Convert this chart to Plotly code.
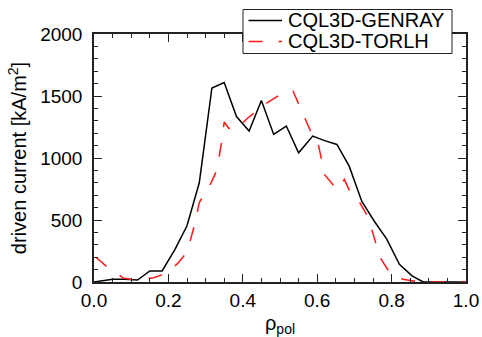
import plotly.graph_objects as go

# Radial profiles of driven current density vs normalized poloidal flux radius
rho_genray = [0.0, 0.05, 0.083, 0.117, 0.15, 0.183, 0.217, 0.25, 0.283, 0.317,
              0.35, 0.383, 0.417, 0.45, 0.483, 0.517, 0.55, 0.588, 0.62, 0.653,
              0.686, 0.72, 0.754, 0.787, 0.821, 0.855, 0.885, 0.92, 0.96, 1.0]
j_genray = [0, 22, 22, 16, 89, 89, 259, 453, 800, 1565,
            1609, 1334, 1217, 1463, 1190, 1258, 1042, 1177, 1140, 1109,
            934, 650, 488, 346, 143, 49, 0, 0, 0, 0]

rho_torlh = [0.005, 0.04, 0.08, 0.115, 0.16, 0.195, 0.225, 0.25, 0.268, 0.283,
             0.313, 0.33, 0.342, 0.35, 0.362, 0.385, 0.411, 0.44, 0.463, 0.499,
             0.528, 0.535, 0.553, 0.586, 0.604, 0.62, 0.653, 0.673, 0.689, 0.715,
             0.738, 0.76, 0.773, 0.796, 0.831, 0.867, 0.9, 1.0]
j_torlh = [200, 110, 30, 15, 35, 70, 150, 240, 435, 640,
           790, 900, 1110, 1290, 1240, 1235, 1317, 1390, 1441, 1508,
           1546, 1540, 1414, 1190, 1096, 866, 745, 826, 723, 637,
           516, 286, 178, 70, 22, 3, 0, 0]

series_names = ["CQL3D-GENRAY", "CQL3D-TORLH"]
series_colors = ["black", "#ff1a1a"]
series_dash = ["solid", "14px,16px"]

x_ticks = [0.0, 0.2, 0.4, 0.6, 0.8, 1.0]
x_ticklabels = ["0.0", "0.2", "0.4", "0.6", "0.8", "1.0"]
y_ticks = [0, 500, 1000, 1500, 2000]
y_ticklabels = ["0", "500", "1000", "1500", "2000"]

FONT = "Liberation Sans, Arial, Helvetica, sans-serif"
W, H = 482, 337
ML, MR, MT, MB = 94, 16, 34, 55
PW, PH = W - ML - MR, H - MT - MB


def px_x(px):
    """Pixel column -> paper x."""
    return (px - ML) / PW


def px_y(py):
    """Pixel row (from top) -> paper y."""
    return (H - MB - py) / PH


fig = go.Figure()
for xs, ys, name, col, dash in zip([rho_genray, rho_torlh], [j_genray, j_torlh],
                                   series_names, series_colors, series_dash):
    fig.add_trace(go.Scatter(
        x=xs, y=ys, mode="lines", name=name,
        line=dict(color=col, width=1.5, dash=dash),
    ))

axis_common = dict(
    showline=True, linecolor="#222", linewidth=1.5, mirror="allticks",
    ticks="inside", ticklen=8, tickwidth=1, tickcolor="#222",
    showgrid=False, zeroline=False, automargin=False,
    tickfont=dict(family=FONT, size=19, color="black"),
)

fig.update_xaxes(
    range=[0, 1], tickvals=x_ticks, ticktext=x_ticklabels,
    minor=dict(dtick=0.05, ticks="inside", ticklen=4, tickcolor="#222"),
    title=dict(text="ρ<sub>pol</sub>", font=dict(family=FONT, size=20, color="black"),
               standoff=7),
    **axis_common,
)
fig.update_yaxes(
    range=[0, 2000], tickvals=y_ticks, ticktext=y_ticklabels,
    minor=dict(dtick=100, ticks="inside", ticklen=4, tickcolor="#222"),
    title=dict(text="driven current [kA/m<sup>2</sup>]",
               font=dict(family=FONT, size=20, color="black"), standoff=8),
    ticklabelstandoff=6,
    **axis_common,
)

# Boxed key in the upper right, overlapping the top frame
shapes = [dict(type="rect", xref="paper", yref="paper",
               x0=px_x(243), x1=px_x(452), y0=px_y(53.5), y1=px_y(9.5),
               line=dict(color="#222", width=1), fillcolor="white", layer="above")]
annotations = []
for i, (name, col, dash) in enumerate(zip(series_names, series_colors, series_dash)):
    yc = 20.5 + 21 * i
    shapes.append(dict(type="line", xref="paper", yref="paper",
                       x0=px_x(248.5), x1=px_x(282), y0=px_y(yc), y1=px_y(yc),
                       line=dict(color=col, width=1.5, dash=dash), layer="above"))
    annotations.append(dict(text=name, xref="paper", yref="paper",
                            x=px_x(286), y=px_y(yc - 1), xanchor="left", yanchor="middle",
                            showarrow=False,
                            font=dict(family=FONT, size=20, color="black")))

fig.update_layout(
    width=W, height=H,
    margin=dict(l=ML, r=MR, t=MT, b=MB),
    paper_bgcolor="white", plot_bgcolor="white",
    font=dict(family=FONT, size=18, color="black"),
    showlegend=False,
    shapes=shapes, annotations=annotations,
)

fig.write_html("out.html")
